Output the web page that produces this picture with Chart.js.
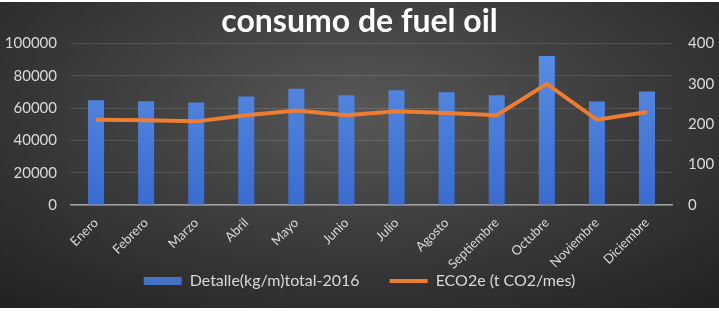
<!DOCTYPE html>
<html>
<head>
<meta charset="utf-8">
<script src="https://cdn.jsdelivr.net/npm/chart.js@4"></script>
<style>
  html, body { margin: 0; padding: 0; background: #fff; }
  #wrap {
    position: absolute; left: 0; top: 2px; width: 719px; height: 306px;
    background: radial-gradient(ellipse 75% 85% at 50% 35%, #575757 0%, #3c3c3c 50%, #222 100%);
  }
</style>
</head>
<body>
<div id="wrap"><canvas id="grafico" width="719" height="306"></canvas></div>
<script>
const meses = ['Enero', 'Febrero', 'Marzo', 'Abril', 'Mayo', 'Junio', 'Julio', 'Agosto', 'Septiembre', 'Octubre', 'Noviembre', 'Diciembre'];
const consumo = [64800, 64200, 63400, 67100, 72000, 67900, 71000, 69800, 67900, 92200, 64000, 70200];
const eco2e = [211, 210, 207, 222, 234, 222, 232, 228, 222, 300, 211, 230];
const ticksIzq = [0, 20000, 40000, 60000, 80000, 100000];
const ticksDer = [0, 100, 200, 300, 400];

const txt = '#d9d9d9';
Chart.defaults.font.family = 'Lato, "Open Sans", sans-serif';

const ctx = document.getElementById('grafico');
new Chart(ctx, {
  type: 'bar',
  data: {
    labels: meses,
    datasets: [{
      label: 'Detalle(kg/m)total-2016',
      data: consumo,
      yAxisID: 'y',
      backgroundColor: c => {
        const a = c.chart.chartArea;
        if (!a) return '#4472C4';
        const g = c.chart.ctx.createLinearGradient(0, a.top, 0, a.bottom);
        g.addColorStop(0, '#5b8fe4');
        g.addColorStop(1, '#3a6bd0');
        return g;
      },
      barPercentage: 0.32,
      categoryPercentage: 1,
      order: 2
    }, {
      type: 'line',
      label: 'ECO2e (t CO2/mes)',
      data: eco2e,
      yAxisID: 'y1',
      borderColor: '#ED7D31',
      backgroundColor: '#ED7D31',
      borderWidth: 4,
      pointRadius: 0,
      tension: 0,
      order: 1
    }]
  },
  options: {
    responsive: false,
    animation: false,
    layout: { padding: { top: 0, bottom: 9, left: 0, right: 0 } },
    plugins: {
      title: {
        display: true,
        text: 'consumo de fuel oil',
        color: '#ffffff',
        font: { size: 32, weight: 'bold' },
        padding: { top: 0, bottom: 3 }
      },
      legend: {
        position: 'bottom',
        labels: {
          color: txt,
          font: { size: 16 },
          usePointStyle: true,
          pointStyleWidth: 38,
          boxHeight: 8,
          padding: 30,
          sort: (a, b) => a.datasetIndex - b.datasetIndex,
          generateLabels: chart => {
            const items = Chart.defaults.plugins.legend.labels.generateLabels(chart);
            items.forEach(it => {
              const barra = it.datasetIndex === 0;
              it.pointStyle = barra ? 'rect' : 'line';
              it.lineWidth = barra ? 0 : 4;
              it.strokeStyle = barra ? '#4472C4' : '#ED7D31';
              it.fillStyle = barra ? '#4472C4' : '#ED7D31';
            });
            return items;
          }
        }
      },
      tooltip: { enabled: false }
    },
    scales: {
      x: {
        grid: { display: false },
        border: { color: '#a0a0a0', width: 1.5 },
        afterFit: s => {
          s.height = 38;
          // las etiquetas giradas bajan más que el eje, no recortarlas
          s._computeLabelArea = () => undefined;
        },
        ticks: { color: txt, font: { size: 13 }, minRotation: 45, maxRotation: 45, padding: 2 }
      },
      y: {
        position: 'left',
        min: 0, max: 100000,
        afterBuildTicks: s => { s.ticks = ticksIzq.map(v => ({ value: v })); },
        afterFit: s => { s.width = 71; },
        grid: { color: 'rgba(255,255,255,0.13)', drawTicks: false },
        border: { display: false },
        ticks: { color: txt, font: { size: 15 }, padding: 14, callback: v => String(v) }
      },
      y1: {
        position: 'right',
        min: 0, max: 400,
        afterBuildTicks: s => { s.ticks = ticksDer.map(v => ({ value: v })); },
        afterFit: s => { s.width = 47; },
        grid: { display: false, drawTicks: false },
        border: { display: false },
        ticks: { color: txt, font: { size: 15 }, padding: 16, callback: v => String(v) }
      }
    }
  }
});
</script>
</body>
</html>
